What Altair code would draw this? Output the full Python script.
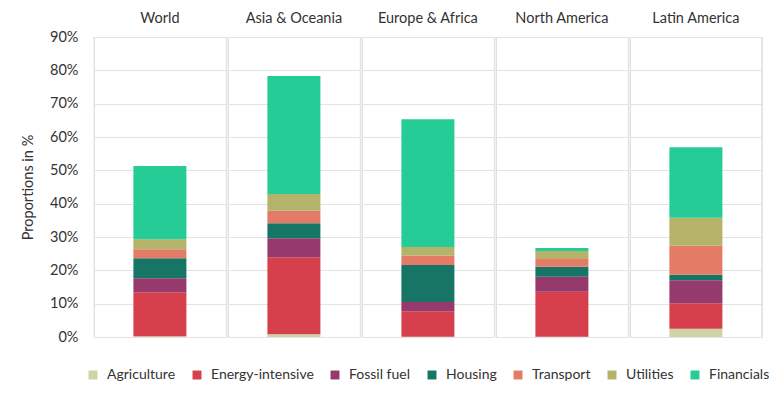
import altair as alt
import pandas as pd

regions = ["World", "Asia & Oceania", "Europe & Africa", "North America", "Latin America"]
sectors = ["Agriculture", "Energy-intensive", "Fossil fuel", "Housing", "Transport", "Utilities", "Financials"]
colors = ["#cfd3a6", "#d63f4c", "#963a6e", "#177566", "#e37b67", "#b5b26a", "#26cc96"]

# values in % per region, in sector order
world = [0.2, 13.2, 4.2, 6.0, 2.7, 3.0, 22.0]
asia = [0.8, 23.1, 5.7, 4.5, 3.8, 5.0, 35.4]
europe = [0.1, 7.6, 2.8, 11.1, 2.8, 2.6, 38.3]
north_america = [0.1, 13.5, 4.5, 3.0, 2.3, 2.4, 0.9]
latin_america = [2.5, 7.6, 6.9, 1.7, 8.7, 8.4, 21.1]

series = [world, asia, europe, north_america, latin_america]
rows = []
for r, vals in zip(regions, series):
    for i, (s, v) in enumerate(zip(sectors, vals)):
        rows.append({"region": r, "sector": s, "idx": i, "value": v / 100})
df = pd.DataFrame(rows)

FONT = "Lato"
FS = 14.5
GRID = "#e3e3e3"
W, H = 131.8, 300

bars = alt.Chart().mark_bar(size=53).encode(
    x=alt.X("region:N", axis=None, scale=alt.Scale(paddingInner=0, paddingOuter=0)),
    y=alt.Y(
        "value:Q",
        stack="zero",
        scale=alt.Scale(domain=[0, 0.9], nice=False),
        axis=alt.Axis(
            format=".0%",
            values=[i / 10 for i in range(10)],
            title="Proportions in %",
            titleFontSize=FS,
            titleFontWeight="normal",
            titleColor="#333333",
            titlePadding=14,
            labelFontSize=FS,
            labelColor="#333333",
            labelPadding=15,
            ticks=False,
            domain=False,
            gridColor=GRID,
        ),
    ),
    color=alt.Color(
        "sector:N",
        sort=sectors,
        scale=alt.Scale(domain=sectors, range=colors),
        legend=alt.Legend(
            title=None,
            orient="none",
            legendX=-8,
            legendY=H + 31,
            direction="horizontal",
            symbolType="square",
            symbolSize=80,
            symbolStrokeWidth=0,
            labelFontSize=14,
            labelColor="#333333",
            columnPadding=14,
            labelOffset=7,
        ),
    ),
    order=alt.Order("idx:Q", sort="ascending"),
)

left_rule = alt.Chart().transform_filter("datum.idx == 0").mark_rule(
    color=GRID, strokeWidth=1
).encode(x=alt.value(0), y=alt.value(0), y2=alt.value(H))

right_rule = alt.Chart().transform_filter(
    "datum.idx == 0 && datum.region == 'Latin America'"
).mark_rule(color=GRID, strokeWidth=1).encode(x=alt.value(W), y=alt.value(0), y2=alt.value(H))

panel = alt.layer(left_rule, right_rule, bars, data=df).properties(width=W, height=H)

chart = panel.facet(
    column=alt.Column(
        "region:N",
        sort=regions,
        header=alt.Header(
            title=None,
            labelOrient="top",
            labelFontSize=FS,
            labelColor="#333333",
            labelPadding=10,
        ),
    ),
    spacing=0,
).resolve_scale(x="independent").configure_view(stroke="transparent").configure(
    font=FONT, padding={"left": 12, "top": 2, "right": 0, "bottom": 0}
)

chart.save("out.html", embed_options={"renderer": "svg", "actions": False})
